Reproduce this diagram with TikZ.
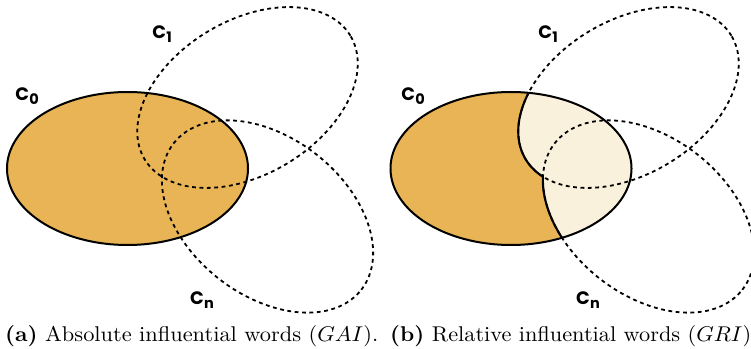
\documentclass[tikz,border=0pt]{standalone}
\usepackage{fontspec}
\usepackage{graphicx}
\newfontfamily\labfont{Poppins}
\definecolor{darkfill}{HTML}{E8B455}
\definecolor{lightfill}{HTML}{FAF1DC}
\newcommand{\ellpath}[5]{plot[domain=0:360,samples=181,variable=\t] ({#1+#3*cos(\t)*cos(#5)-#4*sin(\t)*sin(#5)},{#2+#3*cos(\t)*sin(#5)+#4*sin(\t)*cos(#5)}) -- cycle}
\newcommand{\revrect}{(0,0) -- (0,348) -- (751,348) -- (751,0) -- cycle}
\newcommand{\lab}[2]{{\labfont\bfseries\fontsize{18}{18}\selectfont #1\kern0.3pt\raisebox{-0.2em}{\fontsize{14.5}{14.5}\selectfont #2}}}
\begin{document}
\begin{tikzpicture}[x=1pt,y=1pt,
  c0line/.style={draw=black,line width=2pt},
  dashline/.style={draw=black,line width=1.8pt,dash pattern=on 3.8pt off 3.6pt},
  solidline/.style={draw=black,line width=2.1pt},
  labnode/.style={inner sep=0pt},
  capnode/.style={anchor=base west,inner sep=0pt}]
\useasboundingbox (0,0) rectangle (751,348);
% ---------------- left panel
\fill[darkfill] \ellpath{127.5}{179.5}{120.5}{76.5}{0};
\draw[c0line] \ellpath{127.5}{179.5}{120.5}{76.5}{0};
\draw[dashline] \ellpath{247.5}{250.5}{120}{77}{31};
\draw[dashline] \ellpath{267.5}{131.5}{119}{79}{-38};
\node[labnode] (c0a) at (27,252) {\lab{C}{0}};
\node[labnode] (c1a) at (162,314) {\lab{C}{1}};
\node[labnode] (cna) at (202,48) {\lab{C}{n}};
% ---------------- right panel
\fill[darkfill] \ellpath{511}{179.5}{120.5}{76.5}{0};
\begin{scope}
  \clip \ellpath{511}{179.5}{120.5}{76.5}{0};
  \fill[lightfill] \ellpath{628.5}{250.5}{120}{77}{31};
  \fill[lightfill] \ellpath{648.5}{131.5}{119}{79}{-38};
\end{scope}
\draw[dashline] \ellpath{628.5}{250.5}{120}{77}{31};
\draw[dashline] \ellpath{648.5}{131.5}{119}{79}{-38};
\begin{scope}
  \clip \ellpath{511}{179.5}{120.5}{76.5}{0};
  \begin{scope}
    \clip \revrect \ellpath{648.5}{131.5}{119}{79}{-38};
    \draw[solidline] \ellpath{628.5}{250.5}{120}{77}{31};
  \end{scope}
  \begin{scope}
    \clip \revrect \ellpath{628.5}{250.5}{120}{77}{31};
    \draw[solidline] \ellpath{648.5}{131.5}{119}{79}{-38};
  \end{scope}
\end{scope}
\draw[c0line] \ellpath{511}{179.5}{120.5}{76.5}{0};
\node[labnode] (c0b) at (413,252) {\lab{C}{0}};
\node[labnode] (c1b) at (548,314) {\lab{C}{1}};
\node[labnode] (cnb) at (588,48) {\lab{C}{n}};
% ---------------- captions
\node[capnode] (capa) at (5,7) {\resizebox{373pt}{16pt}{\textbf{(a)} Absolute influential words ($GAI$).}};
\node[capnode] (capb) at (390,7) {\resizebox{361pt}{16pt}{\textbf{(b)} Relative influential words ($GRI$)}};
\end{tikzpicture}
\end{document}
